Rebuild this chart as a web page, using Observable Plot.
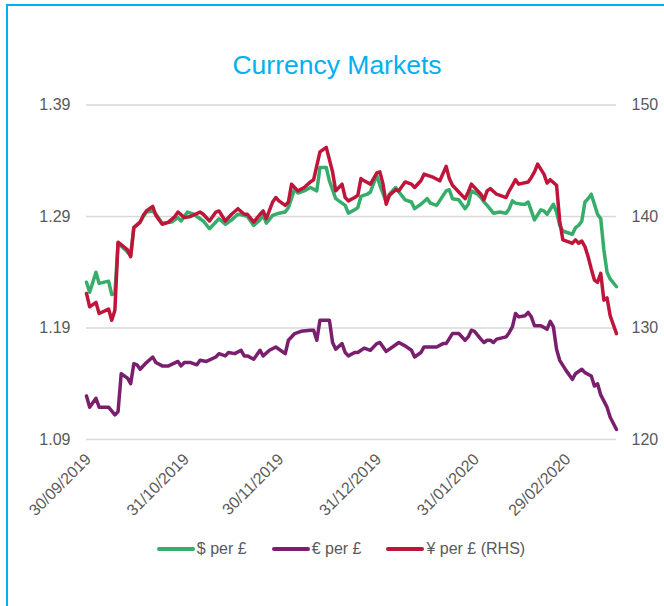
<!DOCTYPE html>
<html>
<head>
<meta charset="utf-8">
<script src="https://cdn.jsdelivr.net/npm/d3@7"></script>
<script src="https://cdn.jsdelivr.net/npm/@observablehq/plot@0.6"></script>
<style>
  html, body { margin: 0; padding: 0; background: #fff; overflow: hidden; }
  body { width: 664px; height: 606px; position: relative; font-family: "Liberation Sans", Arial, sans-serif; }
  #frame { position: absolute; left: 6px; top: 4px; width: 720px; height: 720px; border: 2px solid #00b0f0; box-sizing: border-box; }
  #title { position: absolute; left: 0; top: 52px; width: 674px; text-align: center; font-size: 26.5px; line-height: 26px; color: #00b0f0; }
  #chart { position: absolute; left: 0; top: 0; }
  #legend { position: absolute; left: 0; top: 540px; width: 682px; display: flex; justify-content: center; gap: 25px; font-size: 16px; color: #595959; }
  .item { display: flex; align-items: center; }
  .sw { width: 38px; height: 4px; border-radius: 2px; margin-right: 2px; }
</style>
</head>
<body>
<div id="frame"></div>
<div id="title">Currency Markets</div>
<div id="chart"></div>
<div id="legend"></div>
<script>
// ---- data ----
const seriesNames = ["$ per £", "€ per £", "¥ per £ (RHS)"];
const seriesColors = ["#36ad6a", "#7a1f6e", "#c0153a"];

const usdDates = ["2019-09-30","2019-10-01","2019-10-03","2019-10-04","2019-10-07","2019-10-08","2019-10-09","2019-10-10","2019-10-12","2019-10-14","2019-10-15","2019-10-17","2019-10-18","2019-10-19","2019-10-21","2019-10-22","2019-10-24","2019-10-27","2019-10-29","2019-10-30","2019-11-01","2019-11-03","2019-11-05","2019-11-06","2019-11-08","2019-11-10","2019-11-11","2019-11-13","2019-11-15","2019-11-17","2019-11-19","2019-11-20","2019-11-22","2019-11-24","2019-11-25","2019-11-26","2019-11-28","2019-11-30","2019-12-02","2019-12-03","2019-12-05","2019-12-06","2019-12-08","2019-12-10","2019-12-12","2019-12-13","2019-12-15","2019-12-16","2019-12-18","2019-12-19","2019-12-21","2019-12-22","2019-12-24","2019-12-25","2019-12-26","2019-12-28","2019-12-29","2019-12-31","2020-01-01","2020-01-03","2020-01-04","2020-01-06","2020-01-07","2020-01-09","2020-01-11","2020-01-12","2020-01-14","2020-01-16","2020-01-17","2020-01-19","2020-01-22","2020-01-23","2020-01-24","2020-01-26","2020-01-28","2020-01-29","2020-01-30","2020-02-01","2020-02-02","2020-02-03","2020-02-04","2020-02-06","2020-02-08","2020-02-10","2020-02-11","2020-02-12","2020-02-13","2020-02-15","2020-02-16","2020-02-17","2020-02-18","2020-02-19","2020-02-21","2020-02-22","2020-02-23","2020-02-25","2020-02-26","2020-02-27","2020-02-28","2020-03-01","2020-03-02","2020-03-03","2020-03-04","2020-03-05","2020-03-06","2020-03-07","2020-03-08","2020-03-10","2020-03-11","2020-03-12","2020-03-13","2020-03-14","2020-03-16"];
const usdValues = [1.231,1.222,1.240,1.230,1.232,1.220,1.221,1.266,1.261,1.255,1.280,1.285,1.290,1.294,1.295,1.292,1.284,1.285,1.289,1.286,1.294,1.292,1.288,1.286,1.279,1.285,1.288,1.283,1.287,1.292,1.291,1.290,1.282,1.287,1.291,1.284,1.291,1.293,1.294,1.298,1.315,1.311,1.313,1.316,1.313,1.334,1.334,1.322,1.306,1.304,1.300,1.293,1.296,1.298,1.308,1.310,1.312,1.327,1.318,1.303,1.310,1.316,1.312,1.305,1.303,1.297,1.301,1.306,1.302,1.300,1.313,1.314,1.306,1.305,1.297,1.301,1.313,1.310,1.307,1.303,1.300,1.293,1.294,1.293,1.297,1.304,1.302,1.301,1.301,1.303,1.295,1.287,1.296,1.295,1.292,1.301,1.294,1.282,1.277,1.275,1.274,1.280,1.282,1.286,1.303,1.306,1.310,1.292,1.288,1.260,1.240,1.234,1.227];

const eurDates = ["2019-09-30","2019-10-01","2019-10-03","2019-10-04","2019-10-07","2019-10-09","2019-10-10","2019-10-11","2019-10-13","2019-10-14","2019-10-15","2019-10-16","2019-10-17","2019-10-19","2019-10-21","2019-10-22","2019-10-24","2019-10-26","2019-10-29","2019-10-30","2019-10-31","2019-11-02","2019-11-04","2019-11-05","2019-11-07","2019-11-10","2019-11-11","2019-11-13","2019-11-14","2019-11-16","2019-11-18","2019-11-19","2019-11-20","2019-11-22","2019-11-24","2019-11-25","2019-11-27","2019-11-29","2019-12-02","2019-12-03","2019-12-05","2019-12-07","2019-12-10","2019-12-11","2019-12-12","2019-12-13","2019-12-14","2019-12-16","2019-12-17","2019-12-18","2019-12-20","2019-12-21","2019-12-22","2019-12-24","2019-12-25","2019-12-27","2019-12-29","2019-12-31","2020-01-01","2020-01-03","2020-01-05","2020-01-07","2020-01-09","2020-01-11","2020-01-12","2020-01-14","2020-01-15","2020-01-17","2020-01-19","2020-01-21","2020-01-22","2020-01-24","2020-01-26","2020-01-28","2020-01-29","2020-01-30","2020-01-31","2020-02-02","2020-02-03","2020-02-04","2020-02-05","2020-02-06","2020-02-07","2020-02-10","2020-02-11","2020-02-12","2020-02-13","2020-02-14","2020-02-16","2020-02-17","2020-02-18","2020-02-19","2020-02-21","2020-02-23","2020-02-24","2020-02-25","2020-02-26","2020-02-27","2020-02-29","2020-03-02","2020-03-03","2020-03-05","2020-03-06","2020-03-08","2020-03-09","2020-03-10","2020-03-11","2020-03-13","2020-03-14","2020-03-16"];
const eurValues = [1.129,1.119,1.127,1.119,1.119,1.112,1.115,1.149,1.145,1.140,1.158,1.157,1.153,1.159,1.164,1.159,1.156,1.156,1.160,1.156,1.159,1.159,1.157,1.161,1.160,1.164,1.167,1.165,1.168,1.167,1.170,1.165,1.165,1.162,1.170,1.165,1.170,1.173,1.167,1.179,1.185,1.187,1.188,1.188,1.179,1.197,1.197,1.197,1.177,1.171,1.176,1.168,1.165,1.168,1.168,1.172,1.170,1.176,1.177,1.169,1.173,1.177,1.174,1.170,1.164,1.168,1.173,1.173,1.173,1.176,1.176,1.185,1.185,1.179,1.182,1.188,1.187,1.180,1.177,1.179,1.179,1.177,1.180,1.182,1.186,1.191,1.203,1.200,1.201,1.204,1.200,1.192,1.192,1.189,1.196,1.191,1.171,1.161,1.152,1.144,1.149,1.153,1.150,1.147,1.138,1.140,1.130,1.119,1.110,1.099];

const jpyDates = ["2019-09-30","2019-10-01","2019-10-03","2019-10-04","2019-10-07","2019-10-08","2019-10-09","2019-10-10","2019-10-13","2019-10-14","2019-10-15","2019-10-17","2019-10-18","2019-10-19","2019-10-21","2019-10-22","2019-10-24","2019-10-26","2019-10-28","2019-10-29","2019-10-31","2019-11-02","2019-11-05","2019-11-06","2019-11-08","2019-11-10","2019-11-11","2019-11-13","2019-11-15","2019-11-17","2019-11-19","2019-11-20","2019-11-22","2019-11-24","2019-11-25","2019-11-26","2019-11-28","2019-11-29","2019-11-30","2019-12-02","2019-12-03","2019-12-04","2019-12-06","2019-12-08","2019-12-10","2019-12-11","2019-12-13","2019-12-14","2019-12-15","2019-12-17","2019-12-18","2019-12-20","2019-12-21","2019-12-22","2019-12-24","2019-12-25","2019-12-26","2019-12-27","2019-12-29","2019-12-31","2020-01-01","2020-01-02","2020-01-03","2020-01-04","2020-01-06","2020-01-07","2020-01-09","2020-01-11","2020-01-12","2020-01-14","2020-01-15","2020-01-18","2020-01-20","2020-01-22","2020-01-23","2020-01-24","2020-01-26","2020-01-28","2020-01-29","2020-01-30","2020-01-31","2020-02-02","2020-02-03","2020-02-04","2020-02-05","2020-02-07","2020-02-10","2020-02-11","2020-02-12","2020-02-13","2020-02-14","2020-02-17","2020-02-18","2020-02-19","2020-02-20","2020-02-22","2020-02-23","2020-02-24","2020-02-26","2020-02-27","2020-02-28","2020-03-01","2020-03-02","2020-03-03","2020-03-04","2020-03-05","2020-03-06","2020-03-07","2020-03-08","2020-03-09","2020-03-10","2020-03-11","2020-03-12","2020-03-13","2020-03-14","2020-03-16"];
const jpyValues = [133.1,131.9,132.3,131.3,131.7,130.7,131.6,137.7,137.0,136.4,139.0,139.5,140.1,140.5,140.9,140.1,139.3,139.5,140.0,140.4,139.9,140.0,140.4,140.2,139.6,140.4,140.5,139.6,140.2,140.7,140.2,140.2,139.5,140.2,140.5,139.8,141.3,141.7,141.4,141.0,141.3,142.9,142.3,142.6,143.1,143.3,145.8,146.0,146.2,144.0,142.3,142.9,141.7,141.4,141.7,141.9,143.4,143.2,142.9,143.9,144.0,142.9,141.1,141.9,142.4,142.3,143.1,142.9,142.6,143.2,143.8,143.5,143.2,144.5,143.4,142.8,142.2,141.6,142.2,142.9,142.6,142.0,141.5,142.3,142.5,142.0,141.7,142.3,142.8,143.3,142.9,143.1,143.5,144.0,144.7,143.8,143.0,143.3,142.8,139.6,137.9,137.7,137.6,137.9,137.6,137.8,137.3,136.4,135.3,134.3,134.1,134.9,132.5,132.7,131.1,129.5];

const leftTicks = [1.09, 1.19, 1.29, 1.39];
const rightTicks = [120, 130, 140, 150];
const xTickDates = ["2019-09-30", "2019-10-31", "2019-11-30", "2019-12-31", "2020-01-31", "2020-02-29"];
const xStart = "2019-09-30", xEnd = "2020-03-16";

// ---- build ----
const parse = d3.utcParse("%Y-%m-%d");
const fmt = d3.utcFormat("%d/%m/%Y");
// right axis (yen) mapped onto left axis: 120..150 -> 1.09..1.39
const yenToLeft = v => leftTicks[0] + (v - rightTicks[0]) * (leftTicks[3] - leftTicks[0]) / (rightTicks[3] - rightTicks[0]);

const usd = usdDates.map((d, i) => ({date: parse(d), v: usdValues[i]}));
const eur = eurDates.map((d, i) => ({date: parse(d), v: eurValues[i]}));
const jpy = jpyDates.map((d, i) => ({date: parse(d), v: yenToLeft(jpyValues[i])}));

const chart = Plot.plot({
  width: 664,
  height: 606,
  marginLeft: 86,
  marginRight: 48,
  marginTop: 104.5,
  marginBottom: 167,
  x: {type: "utc", domain: [parse(xStart), parse(xEnd)]},
  y: {domain: [leftTicks[0], leftTicks[3]]},
  style: {fontFamily: "'Liberation Sans', Arial, sans-serif", fontSize: "16px", color: "#595959", background: "transparent", overflow: "visible"},
  marks: [
    Plot.gridY(leftTicks, {stroke: "#d9d9d9", strokeOpacity: 1, strokeWidth: 1.3}),
    Plot.axisY(leftTicks, {anchor: "left", tickSize: 0, tickPadding: 16, label: null, tickFormat: d => d.toFixed(2)}),
    Plot.axisY(leftTicks, {anchor: "right", tickSize: 0, tickPadding: 15, label: null, tickFormat: (d, i) => String(rightTicks[i])}),
    Plot.axisX(xTickDates.map(parse), {tickSize: 0, tickPadding: 17, tickRotate: -45, label: null, tickFormat: fmt, dx: 2}),
    Plot.lineY(usd, {x: "date", y: "v", stroke: seriesColors[0], strokeWidth: 3.5}),
    Plot.lineY(eur, {x: "date", y: "v", stroke: seriesColors[1], strokeWidth: 3.5}),
    Plot.lineY(jpy, {x: "date", y: "v", stroke: seriesColors[2], strokeWidth: 3.5})
  ]
});
document.getElementById("chart").appendChild(chart);

const legend = document.getElementById("legend");
seriesNames.forEach((n, i) => {
  const it = document.createElement("div");
  it.className = "item";
  const sw = document.createElement("span");
  sw.className = "sw";
  sw.style.background = seriesColors[i];
  const tx = document.createElement("span");
  tx.textContent = n;
  it.appendChild(sw); it.appendChild(tx);
  legend.appendChild(it);
});
</script>
</body>
</html>
